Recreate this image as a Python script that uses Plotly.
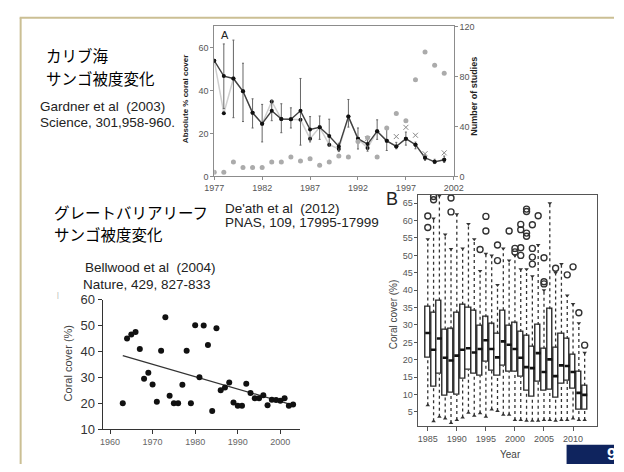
import plotly.graph_objects as go

W, H = 624, 472
def px(x): return x / W
def py(y): return 1 - y / H

# ---------------- Panel A (Gardner et al. 2003) ----------------
a_years = list(range(1977, 2002))
a_mean = [54, 46.8, 45.7, 39.7, 29.7, 24.6, 30.6, 26.8, 26.7, 30.6, 21.9, 22.9, 18.9,
          14.0, 27.9, 17.6, 15.1, 21.1, 16.6, 14.0, 17.6, 14.8, 8.7, 6.8, 7.8]
a_err_hi = [54, 61.8, 63.6, 52.8, 36.2, 33.6, 35.5, 33.9, 32.0, 45.7, 27.9, 28.2, 26.7,
            15.5, 35.9, 22.6, 18.6, 26.4, 21.9, 15.9, 20.7, 16.0, 10.0, 8.0, 9.5]
a_err_lo = [54, 31.7, 27.4, 25.6, 22.6, 16.1, 26.0, 20.4, 22.6, 14.6, 16.1, 17.3, 14.0,
            11.6, 23.0, 12.8, 11.8, 17.3, 12.1, 12.9, 14.6, 12.9, 7.5, 6.0, 6.5]
a_alt = [54, 29.5, 45.7, 39.7, 29.7, 24.6, 35.0, 26.8, 26.7, 26.4, 17.6, 22.9, 14.8,
         12.8, 27.9, 17.6, 13.3, 21.1, 16.6, 14.0, 17.6, 14.8, 8.7, 6.8, 7.8]
a_studies = [3.4, 3.4, 11.6, 7.2, 7.2, 7.2, 11.6, 11.6, 15.5, 12.4, 14.2, 9.0, 11.6,
             16.3, 15.5, 28, 31, 15.5, 38.7, 50.3, 44.6, 77.4, 99.4, 89.0, 82.6]
a_cross_years = [1993, 1996, 1997, 1998, 1999, 2001]
a_cross_vals = [17.6, 18.6, 22.9, 19.2, 10.6, 11.0]
a_xticks = [1977, 1982, 1987, 1992, 1997, 2002]
a_yticks = [0, 20, 40, 60]
a_y2ticks = [0, 40, 80, 120]

# ---------------- Panel C (Bellwood et al. 2004) ----------------
c_years = list(range(1963, 2004))
c_cover = [20, 45, 46.6, 47.5, 41, 29.5, 31.75, 27.25, 20.6, 40.25, 53.25, 22.9, 20, 20,
           27.1, 40.25, 20, 50.1, 30, 50, 42.5, 17, 49, 25, 26.1, 28, 20.3, 19, 19, 27.5,
           24, 21.9, 21.9, 23.1, 19.2, 21.4, 21.3, 21, 21.9, 19, 19.5]
c_trend_years = [1963, 2003]
c_trend_vals = [38.4, 19.3]
c_xticks = [1960, 1970, 1980, 1990, 2000]
c_yticks = [10, 20, 30, 40, 50, 60]

# ---------------- Panel B (De'ath et al. 2012) ----------------
b_years = list(range(1985, 2013))
b_q1 = [20.6, 12.2, 15.9, 9.6, 10.4, 9.9, 14.4, 17.1, 15.9, 15.5, 19.4, 16.9, 15.5, 18.2,
        16.6, 16.6, 15.0, 11.0, 9.4, 13.6, 11.0, 11.3, 9.2, 13.1, 13.9, 11.6, 5.7, 5.7]
b_med = [27.7, 22.9, 26.1, 20.6, 19.8, 21.2, 22.9, 23.3, 22.1, 23.1, 25.6, 23.1, 20.7, 25.3,
         24.3, 23.1, 20.6, 17.9, 17.6, 21.9, 16.5, 20.1, 15.3, 18.4, 18.2, 16.5, 10.5, 9.9]
b_q3 = [35.3, 33.5, 37.0, 28.7, 28.8, 33.5, 35.8, 35.0, 34.0, 29.8, 32.2, 30.2, 27.5, 34.2,
        29.8, 30.5, 28.0, 26.8, 23.8, 30.0, 23.2, 34.5, 23.5, 27.5, 26.0, 21.5, 16.5, 12.5]
b_lo = [6.9, 2.3, 3.6, 3.1, 1.8, 2.7, 3.4, 4.8, 3.9, 4.6, 3.6, 5.7, 5.3, 4.2,
        4.2, 2.7, 2.7, 2.5, 2.5, 2.5, 2.7, 2.7, 2.5, 2.7, 2.7, 3.1, 2.7, 2.7]
b_hi = [54.6, 60.6, 67.1, 56.0, 51.8, 61.8, 52.0, 59.0, 54.6, 45.5, 50.5, 50.0, 41.5, 52.0,
        48.5, 50.0, 46.0, 46.0, 44.0, 53.0, 40.0, 65.0, 45.0, 47.5, 38.5, 36.0, 30.5, 22.0]
b_out_years = [1985, 1985, 1986, 1986, 1989, 1989, 1994, 1995, 1995, 1997, 1997, 1999,
               2000, 2000, 2001, 2001, 2001, 2001, 2002, 2002, 2002, 2002, 2003, 2003, 2003,
               2003, 2004, 2005, 2005, 2005, 2007, 2009, 2010, 2011, 2012]
b_out_vals = [58.0, 61.3, 66.0, 66.9, 62.5, 66.5, 51.7, 57.0, 61.2, 48.5, 53.0, 57.0,
              51.0, 52.0, 50.0, 52.2, 57.4, 58.9, 55.5, 56.4, 62.6, 63.3, 47.5, 49.5, 52.0,
              58.8, 61.4, 41.8, 42.4, 49.3, 46.3, 44.4, 46.7, 33.5, 24.2]
b_xticks = [1985, 1990, 1995, 2000, 2005, 2010]
b_yticks = [5, 10, 15, 20, 25, 30, 35, 40, 45, 50, 55, 60, 65]

SANS = "Liberation Sans, Arial, sans-serif"
JP = "Noto Sans CJK JP, sans-serif"

fig = go.Figure()

# ---- Panel A traces ----
fig.add_trace(go.Scatter(
    x=a_years, y=a_alt, xaxis="x", yaxis="y", mode="lines+markers",
    line=dict(color="#cfcfcf", width=1.5), marker=dict(color="#111", size=4)))
fig.add_trace(go.Scatter(
    x=a_years, y=a_mean, xaxis="x", yaxis="y", mode="lines+markers",
    line=dict(color="#404040", width=1.4), marker=dict(color="#111", size=4),
    error_y=dict(type="data", symmetric=False,
                 array=[h - m for h, m in zip(a_err_hi, a_mean)],
                 arrayminus=[m - l for m, l in zip(a_mean, a_err_lo)],
                 color="#666", thickness=1, width=1)))
fig.add_trace(go.Scatter(
    x=a_years, y=a_studies, xaxis="x", yaxis="y2", mode="markers",
    marker=dict(color="#ababab", size=5)))
fig.add_trace(go.Scatter(
    x=a_cross_years, y=a_cross_vals, xaxis="x", yaxis="y", mode="markers",
    marker=dict(symbol="x-thin", size=5, line=dict(color="#888", width=1))))

# ---- Panel C traces ----
fig.add_trace(go.Scatter(
    x=c_trend_years, y=c_trend_vals, xaxis="x2", yaxis="y3", mode="lines",
    line=dict(color="#333", width=1.2)))
fig.add_trace(go.Scatter(
    x=c_years, y=c_cover, xaxis="x2", yaxis="y3", mode="markers",
    marker=dict(color="#111", size=6)))

# ---- Panel B traces ----
fig.add_trace(go.Bar(
    x=b_years, y=[q3 - q1 for q1, q3 in zip(b_q1, b_q3)], base=b_q1,
    xaxis="x3", yaxis="y4", width=0.88,
    marker=dict(color="white", line=dict(color="#2a2a2a", width=1.4))))
wx, wy = [], []
for yr, lo, q1, q3, hi in zip(b_years, b_lo, b_q1, b_q3, b_hi):
    wx += [yr, yr, None, yr, yr, None]
    wy += [lo, q1, None, q3, hi, None]
fig.add_trace(go.Scatter(
    x=wx, y=wy, xaxis="x3", yaxis="y4", mode="lines",
    line=dict(color="#333", width=1.3, dash="dot")))
fig.add_trace(go.Scatter(
    x=b_years, y=b_hi, xaxis="x3", yaxis="y4", mode="markers",
    marker=dict(symbol="triangle-down", size=4, color="#333")))
fig.add_trace(go.Scatter(
    x=b_years, y=b_lo, xaxis="x3", yaxis="y4", mode="markers",
    marker=dict(symbol="triangle-up", size=4, color="#333")))
mx, my = [], []
for yr, m in zip(b_years, b_med):
    mx += [yr - 0.44, yr + 0.44, None]
    my += [m, m, None]
fig.add_trace(go.Scatter(
    x=mx, y=my, xaxis="x3", yaxis="y4", mode="lines",
    line=dict(color="#111", width=2.6)))
fig.add_trace(go.Scatter(
    x=b_out_years, y=b_out_vals, xaxis="x3", yaxis="y4", mode="markers",
    marker=dict(symbol="circle-open", size=6, color="#333", line=dict(width=1.4))))

axA = dict(showgrid=False, zeroline=False, showline=True, linecolor="#8c8c8c",
           linewidth=1, ticks="outside", ticklen=3, tickcolor="#8c8c8c",
           tickfont=dict(family=SANS, size=9, color="#555"))

fig.update_layout(
    width=W, height=H, margin=dict(l=0, r=0, t=0, b=0),
    paper_bgcolor="white", plot_bgcolor="white", showlegend=False,
    bargap=0,
    xaxis=dict(**axA, domain=[px(211), px(458.5)], anchor="y", range=[1977, 2002],
               tickvals=a_xticks, mirror=True),
    yaxis=dict(**axA, domain=[py(175), py(20)], anchor="x", range=[0, 70],
               tickvals=a_yticks),
    yaxis2=dict(**axA, overlaying="y", side="right", anchor="x", range=[0, 120],
                tickvals=a_y2ticks),
    xaxis2=dict(showgrid=False, zeroline=False, showline=True, linecolor="#333",
                ticks="outside", ticklen=4, tickcolor="#333",
                tickfont=dict(family=SANS, size=9, color="#666"),
                domain=[px(95.7), px(299.3)], anchor="y3", range=[1958.27, 2004.55],
                tickvals=c_xticks),
    yaxis3=dict(showgrid=False, zeroline=False, showline=True, linecolor="#333",
                ticks="outside", ticklen=4, tickcolor="#333",
                tickfont=dict(family=SANS, size=13, color="#333"),
                domain=[py(436), py(302.3)], anchor="x2", range=[10, 60],
                tickvals=c_yticks),
    xaxis3=dict(showgrid=False, zeroline=False, showline=True, linecolor="#555",
                mirror=True, ticks="outside", ticklen=4, tickcolor="#555",
                tickfont=dict(family=SANS, size=9, color="#555"),
                domain=[px(422), px(606)], anchor="y4", range=[1983.4, 2014.05],
                tickvals=b_xticks),
    yaxis4=dict(showgrid=False, zeroline=False, showline=True, linecolor="#555",
                mirror=True, ticks="outside", ticklen=3, tickcolor="#555",
                tickfont=dict(family=SANS, size=9, color="#555"),
                domain=[py(433), py(194)], anchor="x3", range=[0.9, 67.4],
                tickvals=b_yticks),
)

# slide decoration
fig.add_shape(type="line", xref="paper", yref="paper", x0=px(10), x1=1, y0=py(11), y1=py(11),
              line=dict(color="#cbbf94", width=2))
fig.add_shape(type="line", xref="paper", yref="paper", x0=px(11), x1=px(11), y0=py(11), y1=0,
              line=dict(color="#cbbf94", width=2))
fig.add_shape(type="rect", xref="paper", yref="paper", x0=px(575), x1=1, y0=0, y1=py(452),
              fillcolor="#0f245e", line=dict(width=0))

def txt(x, y, s, size, color="#111", family=SANS, xanchor="left", angle=0, bold=False):
    if bold:
        s = "<b>" + s + "</b>"
    fig.add_annotation(x=px(x), y=py(y), xref="paper", yref="paper", text=s,
                       showarrow=False, xanchor=xanchor, yanchor="middle", align="left",
                       textangle=angle, borderpad=0,
                       font=dict(family=family, size=size, color=color))

txt(36, 50, "カリブ海", 15.5, "#000", JP)
txt(36, 73, "サンゴ被度変化", 15.5, "#000", JP)
txt(30, 103, "Gardner et al  (2003)", 13.5, "#222")
txt(30, 119, "Science, 301,958-960.", 13.5, "#222")
txt(44, 211.5, "グレートバリアリーフ", 15.5, "#000", JP)
txt(44, 234.5, "サンゴ被度変化", 15.5, "#000", JP)
txt(221, 208, "De'ath et al  (2012)", 13.5, "#222")
txt(221, 223, "PNAS, 109, 17995-17999", 13.5, "#222")
txt(76, 269, "Bellwood et al  (2004)", 13.5, "#222")
txt(74, 287, "Nature, 429, 827-833", 13.5, "#222")
txt(50, 297, "|", 7, "#aaa", xanchor="center")

txt(217, 29, "A", 11, "#222")
txt(182, 95, "Absolute % coral cover", 8, "#222", xanchor="center", angle=-90, bold=True)
txt(479, 92, "Number of studies", 9, "#222", xanchor="center", angle=-90, bold=True)

txt(395, 198, "B", 18, "#222", xanchor="center")
txt(397, 318, "Coral cover (%)", 10, "#444", xanchor="center", angle=-90)
txt(517, 462, "Year", 10, "#444", xanchor="center")
txt(60, 368, "Coral cover (%)", 11, "#444", xanchor="center", angle=-90)
txt(621, 462, "9", 17, "white", xanchor="center", bold=True)

fig.write_html("out.html", config={"displayModeBar": False},
               post_script="document.body.style.margin='0px';"
                           "document.documentElement.style.overflow='hidden';")
